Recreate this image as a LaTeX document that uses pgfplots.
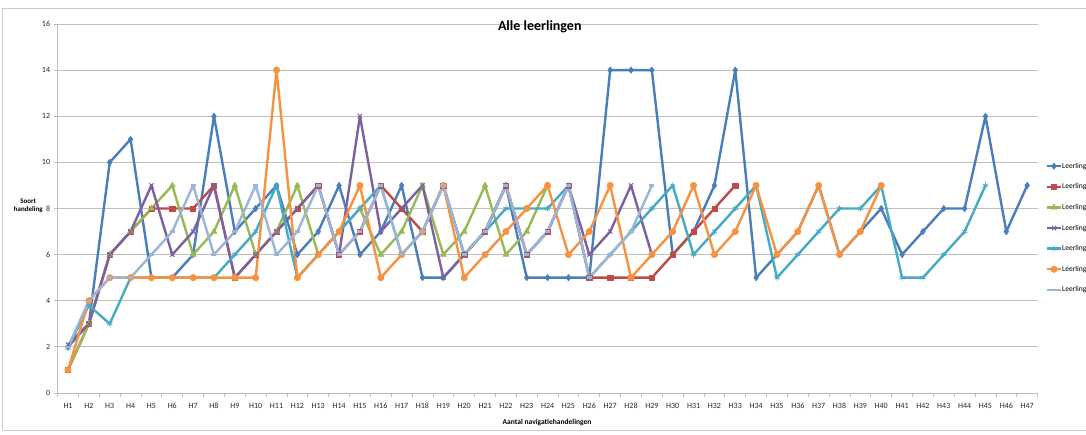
\documentclass[border=0pt]{standalone}
\usepackage{fontspec}
\setmainfont{Carlito}
\usepackage{pgfplots}
\pgfplotsset{compat=1.18}
\definecolor{c1}{HTML}{4A7EBB}
\definecolor{c2}{HTML}{BE4B48}
\definecolor{c3}{HTML}{98B954}
\definecolor{c4}{HTML}{7D60A0}
\definecolor{c5}{HTML}{46AAC5}
\definecolor{c6}{HTML}{F69240}
\definecolor{c7}{HTML}{9BB5D9}
\definecolor{gridc}{HTML}{BFBFBF}
\begin{document}
\begin{tikzpicture}
\draw[gridc!80, line width=0.8pt] (2pt,4pt) rectangle (1100pt,426pt);
\begin{axis}[
  at={(57.6pt,41pt)}, anchor=south west, scale only axis,
  width=980pt, height=369pt,
  xmin=0.5, xmax=47.5, ymin=0, ymax=16,
  axis x line*=bottom, axis y line*=left,
  axis line style={gridc, line width=0.8pt},
  xtick={1,...,47},
  xticklabels={H1,H2,H3,H4,H5,H6,H7,H8,H9,H10,H11,H12,H13,H14,H15,H16,H17,H18,H19,H20,H21,H22,H23,H24,H25,H26,H27,H28,H29,H30,H31,H32,H33,H34,H35,H36,H37,H38,H39,H40,H41,H42,H43,H44,H45,H46,H47},
  major x tick style={draw=none},
  minor xtick={0.5,1.5,...,47.5},
  minor tick length=4pt, major tick length=4pt,
  tick align=outside,
  tick style={gridc, line width=0.8pt},
  ytick={0,2,...,16},
  ymajorgrids, grid style={gridc, line width=0.8pt},
  /pgf/number format/assume math mode=true,
  tick label style={font=\fontsize{8}{9}\selectfont, text=black!85},
  xticklabel style={yshift=-2pt, text height=6pt, text depth=0pt, anchor=north},
  title={Alle leerlingen},
  title style={at={(axis description cs:0.492,0.976)}, anchor=center, font=\bfseries\fontsize{14}{16}\selectfont},
  xlabel={Aantal navigatiehandelingen},
  xlabel style={at={(axis description cs:0.4994,-0.0786)}, anchor=center, font=\bfseries\fontsize{7.5}{9}\selectfont},
  ylabel={Soort\\handeling},
  ylabel style={rotate=-90, at={(axis description cs:-0.030,0.507)}, anchor=center, align=center, font=\bfseries\fontsize{7}{8.5}\selectfont},
  legend style={at={(axis description cs:1,0.447)}, anchor=west, xshift=8pt, draw=none, fill=none, inner sep=0pt,
     font=\fontsize{7.5}{8}\selectfont, row sep=12.6pt,
     nodes={inner sep=0pt, text height=6pt, text depth=2pt}},
  legend cell align=left,
  legend image code/.code={\draw[mark repeat=2,mark phase=2,#1] plot coordinates {(0pt,0pt) (7pt,0pt) (14pt,0pt)};},
  every axis plot/.append style={line width=2.4pt, line join=round},
]
\addplot[c1, mark=diamond*, mark size=3.2pt, mark options={fill=c1, line width=0.5pt}] coordinates {
(1,2) (2,3) (3,10) (4,11) (5,5) (6,5) (7,6) (8,12) (9,7) (10,8)
(11,9) (12,6) (13,7) (14,9) (15,6) (16,7) (17,9) (18,5) (19,5) (20,6)
(21,7) (22,9) (23,5) (24,5) (25,5) (26,5) (27,14) (28,14) (29,14) (30,6)
(31,7) (32,9) (33,14) (34,5) (35,6) (36,7) (37,9) (38,6) (39,7) (40,8)
(41,6) (42,7) (43,8) (44,8) (45,12) (46,7) (47,9)};
\addplot[c2, mark=square*, mark size=2.6pt, mark options={fill=c2, line width=0.5pt}] coordinates {
(1,1) (2,3) (3,6) (4,7) (5,8) (6,8) (7,8) (8,9) (9,5) (10,6)
(11,7) (12,8) (13,9) (14,6) (15,7) (16,9) (17,8) (18,7) (19,9) (20,6)
(21,7) (22,9) (23,6) (24,7) (25,9) (26,5) (27,5) (28,5) (29,5) (30,6)
(31,7) (32,8) (33,9)};
\addplot[c3, mark=triangle*, mark size=3.4pt, mark options={fill=c3, line width=0.5pt}] coordinates {
(1,1) (2,3) (3,6) (4,7) (5,8) (6,9) (7,6) (8,7) (9,9) (10,6)
(11,7) (12,9) (13,6) (14,7) (15,8) (16,6) (17,7) (18,9) (19,6) (20,7)
(21,9) (22,6) (23,7) (24,9)};
\addplot[c4, mark=x, mark size=3pt, mark options={line width=1pt}] coordinates {
(1,2.1) (2,3) (3,6) (4,7) (5,9) (6,6) (7,7) (8,9) (9,5) (10,6)
(11,7) (12,8) (13,9) (14,6) (15,12) (16,7) (17,8) (18,9) (19,5) (20,6)
(21,7) (22,9) (23,6) (24,7) (25,9) (26,6) (27,7) (28,9) (29,6)};
\addplot[c5, mark=asterisk, mark size=3pt, mark options={line width=0.8pt}] coordinates {
(1,1.95) (2,3.8) (3,3) (4,5) (5,5) (6,5) (7,5) (8,5) (9,6) (10,7)
(11,9) (12,5) (13,6) (14,7) (15,8) (16,9) (17,6) (18,7) (19,9) (20,6)
(21,7) (22,8) (23,8) (24,8) (25,9) (26,5) (27,6) (28,7) (29,8) (30,9)
(31,6) (32,7) (33,8) (34,9) (35,5) (36,6) (37,7) (38,8) (39,8) (40,9)
(41,5) (42,5) (43,6) (44,7) (45,9)};
\addplot[c6, mark=*, mark size=3.2pt, mark options={fill=c6, line width=0.5pt}] coordinates {
(1,1) (2,4) (3,5) (4,5) (5,5) (6,5) (7,5) (8,5) (9,5) (10,5)
(11,14) (12,5) (13,6) (14,7) (15,9) (16,5) (17,6) (18,7) (19,9) (20,5)
(21,6) (22,7) (23,8) (24,9) (25,6) (26,7) (27,9) (28,5) (29,6) (30,7)
(31,9) (32,6) (33,7) (34,9) (35,6) (36,7) (37,9) (38,6) (39,7) (40,9)};
\addplot[c7, mark=-, mark size=2.5pt] coordinates {
(1,2) (2,4) (3,5) (4,5) (5,6) (6,7) (7,9) (8,6) (9,7) (10,9)
(11,6) (12,7) (13,9) (14,6) (15,7) (16,9) (17,6) (18,7) (19,9) (20,6)
(21,7) (22,9) (23,6) (24,7) (25,9) (26,5) (27,6) (28,7) (29,9)};
\legend{Leerling 1,Leerling 2,Leerling 3,Leerling 4,Leerling 5,Leerling 6,Leerling 7}
\end{axis}
\pgfresetboundingbox
\path[use as bounding box] (0pt,0pt) rectangle (1086pt,434pt);
\end{tikzpicture}
\end{document}
